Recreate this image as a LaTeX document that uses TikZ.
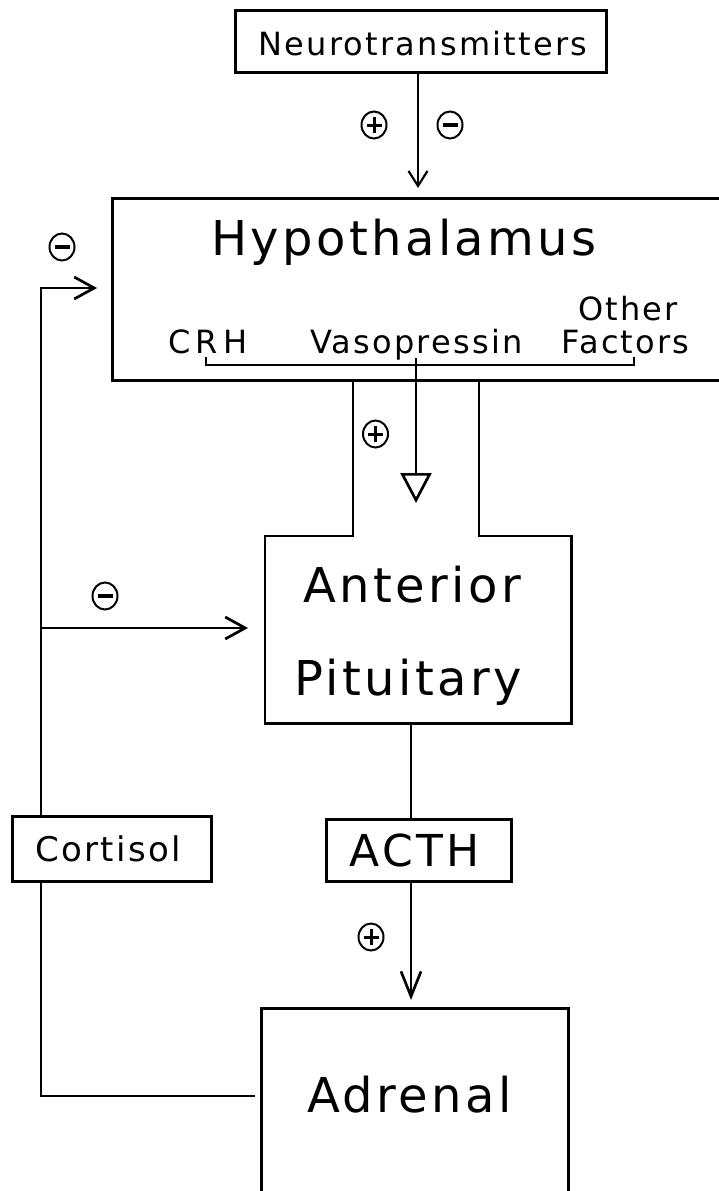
\documentclass[tikz,border=0pt]{standalone}
\usepackage{fontspec}
\setmainfont{DejaVu Sans}[LetterSpace=7]
\usetikzlibrary{arrows.meta,shapes.geometric}
\tikzset{
  box/.style={draw, line width=2.7pt, inner sep=0pt},
  lbl/.style={anchor=base, inner sep=0pt},
  big/.style={lbl, font=\fontsize{48}{50}\selectfont},
  mid/.style={lbl, font=\fontsize{44}{46}\selectfont},
  small/.style={lbl, font=\fontsize{32}{34}\selectfont},
  wire/.style={line width=2.7pt, line join=miter},
  shortarr/.style={line width=2.2pt, -{Straight Barb[length=15pt,width=19pt,line width=2.2pt]}},
  medarr/.style={wire, -{Straight Barb[length=20pt,width=22pt,line width=2.7pt]}},
  longarr/.style={wire, -{Straight Barb[length=25pt,width=20pt,line width=2.7pt]}},
  sgn/.style={draw, ellipse, minimum width=25pt, minimum height=27pt, inner sep=0pt, line width=2pt},
  possign/.style={sgn, path picture={
     \draw[line width=3pt] ([xshift=-7.5pt]path picture bounding box.center) -- ([xshift=7.5pt]path picture bounding box.center)
       ([yshift=-8pt]path picture bounding box.center) -- ([yshift=8pt]path picture bounding box.center);}},
  negsign/.style={sgn, path picture={
     \draw[line width=3.2pt] ([xshift=-7.5pt]path picture bounding box.center) -- ([xshift=7.5pt]path picture bounding box.center);}},
}
\begin{document}
\begin{tikzpicture}[x=1pt,y=-1pt]
\useasboundingbox (0,0) rectangle (718,1191);
\fill[white] (0,0) rectangle (718,1191);

% boxes
\node[box, minimum width=371pt, minimum height=62pt, anchor=north west] (nt) at (234,9) {};
\node[small] (nttext) at (423,55) {Neurotransmitters};

\node[box, minimum width=660pt, minimum height=182pt, anchor=north west] (hyp) at (111,197) {};
\node[big] (hyptext) at (404,255) {Hypothalamus};
\node[small] (other) at (628,320) {Other};
\node[small] (crh) at (208,353) {\addfontfeature{LetterSpace=17}CRH};
\node[small] (vaso) at (416.5,353) {Vasopressin};
\node[small] (fact) at (625.5,353) {Factors};

\node[inner sep=0pt, minimum width=306pt, minimum height=187pt, anchor=north west] (pit) at (265,536) {};
\node[big] (ant) at (412.5,602) {Anterior};
\node[big] (pitu) at (408,695) {Pituitary};

\node[box, minimum width=199pt, minimum height=65pt, anchor=north west] (cort) at (11,815) {};
\node[lbl, font=\fontsize{34}{36}\selectfont] (corttext) at (108,861) {Cortisol};

\node[box, minimum width=185pt, minimum height=62pt, anchor=north west] (acth) at (325,818) {};
\node[mid] (acthtext) at (414.5,866) {ACTH};

\node[box, minimum width=307pt, minimum height=240pt, anchor=north west] (adr) at (260,1007) {};
\node[big] (adrtext) at (409.5,1112) {Adrenal};

% signs
\node[possign] (s1) at (374,125) {};
\node[negsign] (s2) at (450,125) {};
\node[negsign] (s3) at (62,247) {};
\node[possign] (s4) at (375.5,434) {};
\node[negsign] (s5) at (105,596) {};
\node[possign] (s6) at (371,937) {};

% coordinates
\coordinate (nttip) at (418,188);
\coordinate (sL) at (353,379);
\coordinate (sR) at (479,379);
\coordinate (bl) at (206,365);
\coordinate (br) at (634,365);
\coordinate (bm) at (416,358);
\coordinate (tritip) at (416,503);
\coordinate (fbtop) at (41,288);
\coordinate (fbtip) at (97,288);
\coordinate (fbmid) at (41,628);
\coordinate (pittip) at (248,628);
\coordinate (fbbot) at (41,1096);
\coordinate (acthtip) at (411,1000);

% neurotransmitter arrow
\draw[shortarr] (nt.south -| nttip) -- (nttip);

% stalk and pituitary outline
\draw[wire] (sL) -- (sL |- pit.north) -- (pit.north west) -- (pit.south west)
  -- (pit.south east) -- (pit.north east) -- (sR |- pit.north) -- (sR);

% bracket
\draw[wire] ([yshift=8pt]bl) -- (bl) -- (br) -- ([yshift=8pt]br);
\draw[wire, -{Triangle[open, length=30pt, width=31pt, line width=2.7pt]}] (bm) -- (tritip);

% feedback loop
\draw[medarr] (cort.north -| fbtop) -- (fbtop) -- (fbtip);
\draw[medarr] (fbmid) -- (pittip);
\draw[wire] (cort.south -| fbbot) -- (fbbot) -- ([xshift=-5pt]adr.west |- fbbot);

% pituitary to ACTH to adrenal
\draw[wire] (pit.south -| acthtip) -- (acth.north -| acthtip);
\draw[longarr] (acth.south -| acthtip) -- (acthtip);
\end{tikzpicture}
\end{document}
